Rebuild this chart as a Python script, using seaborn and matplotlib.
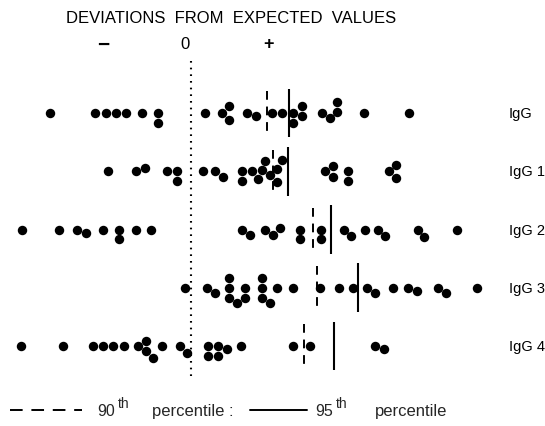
import numpy as np
import pandas as pd
import matplotlib
matplotlib.use("Agg")
import matplotlib.pyplot as plt
import seaborn as sns

# ---- data (deviation from expected value, arbitrary units) ----
classes = ["IgG", "IgG 1", "IgG 2", "IgG 3", "IgG 4"]
dev_igg = [-14.1, -9.6, -8.5, -7.5, -6.5, -4.9, -3.3, -3.3, 1.4, 3.1, 3.8, 3.8,
           5.6, 6.5, 8.1, 9.1, 10.2, 10.2, 11.1, 11.1, 13.1, 13.9, 14.6, 14.6,
           17.3, 21.8]
dev_igg1 = [-8.3, -5.5, -4.6, -2.4, -1.4, -1.4, 1.2, 2.4, 3.2, 5.1, 5.1, 6.1,
            6.7, 7.1, 7.4, 7.9, 8.6, 8.6, 9.1, 13.4, 14.2, 14.2, 15.7, 15.7,
            19.8, 20.5, 20.5]
dev_igg2 = [-16.9, -13.2, -11.4, -10.5, -8.8, -7.2, -7.2, -5.5, -4.0, 5.1, 5.9,
            7.4, 8.2, 8.9, 10.9, 10.9, 13.0, 13.0, 15.3, 16.0, 17.4, 18.7, 19.4,
            22.7, 23.3, 26.6]
dev_igg3 = [-0.6, 1.6, 2.4, 3.8, 3.8, 3.8, 4.6, 5.4, 5.4, 7.1, 7.1, 7.1, 7.9,
            8.6, 10.2, 12.9, 14.8, 16.2, 17.6, 18.4, 20.2, 21.7, 22.6, 24.7,
            25.5, 28.6]
dev_igg4 = [-17.0, -12.8, -9.8, -8.8, -7.8, -6.7, -5.3, -4.5, -4.5, -3.8, -2.9,
            -1.1, -0.4, 1.7, 1.7, 2.7, 2.7, 3.6, 5.0, 10.2, 11.9, 18.4, 19.3]
p90 = [7.6, 8.2, 12.2, 12.6, 11.3]
p95 = [9.8, 9.7, 14.0, 16.7, 14.3]

title = "DEVIATIONS  FROM  EXPECTED  VALUES"
sign_labels = ["\u2212", "0", "+"]
sign_pos = [-8.8, -0.6, 7.7]

# ---- figure ----
sns.set_theme(style="white")
plt.rcParams['font.family'] = ['Liberation Sans', 'DejaVu Sans']

fig = plt.figure(figsize=(5.45, 4.27), dpi=100)
ax = fig.add_axes([0, 0, 1, 1])

all_dev = [dev_igg, dev_igg1, dev_igg2, dev_igg3, dev_igg4]
df = pd.DataFrame({
    "dev": np.concatenate(all_dev),
    "cls": np.concatenate([[c] * len(v) for c, v in zip(classes, all_dev)]),
})

sns.swarmplot(data=df, x="dev", y="cls", order=classes, orient="h",
              color="black", size=6.8, linewidth=0, ax=ax)

ax.set_xlim(-19.1, 35.4)
ax.set_ylim(5.373, -1.957)
ax.axis("off")

pos = np.arange(len(classes))
# zero line
ax.vlines(0, -0.89, 4.53, colors="black", linewidth=1.5,
          linestyles=(0, (0.8, 2.4)))
# percentile marks
ax.vlines(p90, pos - 0.37, pos + 0.37, colors="black", linewidth=1.4,
          linestyles=(0, (4.5, 3.5)))
ax.vlines(p95, pos - 0.42, pos + 0.42, colors="black", linewidth=1.5)

# title and signs
ax.text(4.0, -1.648, title, ha="center", va="center", fontsize=12,
        color="black")
sign_sizes = [15, 12, 13]
sign_weights = ["bold", "normal", "bold"]
for s, x, fs, fw in zip(sign_labels, sign_pos, sign_sizes, sign_weights):
    ax.text(x, -1.185, s, ha="center", va="center", fontsize=fs,
            fontweight=fw, color="black")

# row labels
for i, c in enumerate(classes):
    ax.text(31.8, i, c, ha="left", va="center", fontsize=10.5, color="black")

# legend
ly = 5.1
ax.plot([-18.1, -10.9], [ly, ly], color="black", linewidth=1.4,
        dashes=(6.5, 4.5))
ax.text(-9.4, ly, "90", ha="left", va="center", fontsize=11.5)
ax.text(-7.3, ly - 0.13, "th", ha="left", va="center", fontsize=10)
ax.text(-3.9, ly, "percentile :", ha="left", va="center", fontsize=12)
ax.plot([5.9, 11.6], [ly, ly], color="black", linewidth=1.4)
ax.text(12.4, ly, "95", ha="left", va="center", fontsize=11.5)
ax.text(14.5, ly - 0.13, "th", ha="left", va="center", fontsize=10)
ax.text(18.4, ly, "percentile", ha="left", va="center", fontsize=12)

fig.savefig("out.png", dpi=100, facecolor="white")
